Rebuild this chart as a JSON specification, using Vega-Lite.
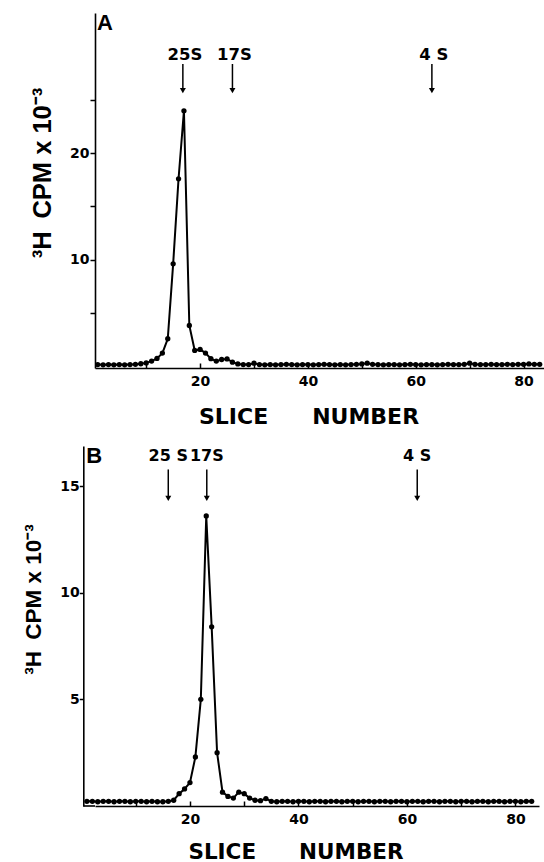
{
  "$schema": "https://vega.github.io/schema/vega-lite/v6.json",
  "padding": {"left": 21, "top": 12, "right": 0, "bottom": 0},
  "background": "white",
  "config": {
    "view": {"stroke": null},
    "axis": {"domainColor": "black", "domainWidth": 1.6, "tickColor": "black", "tickWidth": 1.5, "labelColor": "black", "labelFont": "DejaVu Sans", "labelFontWeight": "bold", "labelFontSize": 14, "titleColor": "black", "grid": false, "labelFlush": false, "labelOverlap": false},
    "concat": {"spacing": 17}
  },
  "datasets": {
    "a": [
      {"slice":1,"cpm":0.12},{"slice":2,"cpm":0.1},{"slice":3,"cpm":0.12},{"slice":4,"cpm":0.1},{"slice":5,"cpm":0.12},{"slice":6,"cpm":0.1},{"slice":7,"cpm":0.12},{"slice":8,"cpm":0.15},{"slice":9,"cpm":0.2},{"slice":10,"cpm":0.28},
      {"slice":11,"cpm":0.45},{"slice":12,"cpm":0.7},{"slice":13,"cpm":1.2},{"slice":14,"cpm":2.55},{"slice":15,"cpm":9.6},{"slice":16,"cpm":17.6},{"slice":17,"cpm":24.0},{"slice":18,"cpm":3.8},{"slice":19,"cpm":1.45},{"slice":20,"cpm":1.55},
      {"slice":21,"cpm":1.2},{"slice":22,"cpm":0.68},{"slice":23,"cpm":0.45},{"slice":24,"cpm":0.6},{"slice":25,"cpm":0.65},{"slice":26,"cpm":0.35},{"slice":27,"cpm":0.18},{"slice":28,"cpm":0.12},{"slice":29,"cpm":0.12},{"slice":30,"cpm":0.25},
      {"slice":31,"cpm":0.12},{"slice":32,"cpm":0.1},{"slice":33,"cpm":0.12},{"slice":34,"cpm":0.1},{"slice":35,"cpm":0.12},{"slice":36,"cpm":0.15},{"slice":37,"cpm":0.12},{"slice":38,"cpm":0.1},{"slice":39,"cpm":0.12},{"slice":40,"cpm":0.12},
      {"slice":41,"cpm":0.1},{"slice":42,"cpm":0.12},{"slice":43,"cpm":0.15},{"slice":44,"cpm":0.12},{"slice":45,"cpm":0.1},{"slice":46,"cpm":0.12},{"slice":47,"cpm":0.1},{"slice":48,"cpm":0.12},{"slice":49,"cpm":0.15},{"slice":50,"cpm":0.18},
      {"slice":51,"cpm":0.25},{"slice":52,"cpm":0.15},{"slice":53,"cpm":0.12},{"slice":54,"cpm":0.1},{"slice":55,"cpm":0.12},{"slice":56,"cpm":0.12},{"slice":57,"cpm":0.1},{"slice":58,"cpm":0.12},{"slice":59,"cpm":0.15},{"slice":60,"cpm":0.12},
      {"slice":61,"cpm":0.1},{"slice":62,"cpm":0.12},{"slice":63,"cpm":0.12},{"slice":64,"cpm":0.1},{"slice":65,"cpm":0.12},{"slice":66,"cpm":0.15},{"slice":67,"cpm":0.12},{"slice":68,"cpm":0.12},{"slice":69,"cpm":0.15},{"slice":70,"cpm":0.25},
      {"slice":71,"cpm":0.15},{"slice":72,"cpm":0.12},{"slice":73,"cpm":0.12},{"slice":74,"cpm":0.15},{"slice":75,"cpm":0.12},{"slice":76,"cpm":0.12},{"slice":77,"cpm":0.15},{"slice":78,"cpm":0.12},{"slice":79,"cpm":0.15},{"slice":80,"cpm":0.15},
      {"slice":81,"cpm":0.18},{"slice":82,"cpm":0.15},{"slice":83,"cpm":0.15}
    ],
    "aMarks": [{"label":"25S","slice":16.8},{"label":"17S","slice":26},{"label":"4 S","slice":63}],
    "b": [
      {"slice":1,"cpm":0.22},{"slice":2,"cpm":0.22},{"slice":3,"cpm":0.2},{"slice":4,"cpm":0.22},{"slice":5,"cpm":0.22},{"slice":6,"cpm":0.2},{"slice":7,"cpm":0.22},{"slice":8,"cpm":0.22},{"slice":9,"cpm":0.2},{"slice":10,"cpm":0.22},
      {"slice":11,"cpm":0.22},{"slice":12,"cpm":0.2},{"slice":13,"cpm":0.22},{"slice":14,"cpm":0.2},{"slice":15,"cpm":0.2},{"slice":16,"cpm":0.22},{"slice":17,"cpm":0.27},{"slice":18,"cpm":0.58},{"slice":19,"cpm":0.8},{"slice":20,"cpm":1.1},
      {"slice":21,"cpm":2.3},{"slice":22,"cpm":5.0},{"slice":23,"cpm":13.6},{"slice":24,"cpm":8.4},{"slice":25,"cpm":2.5},{"slice":26,"cpm":0.65},{"slice":27,"cpm":0.45},{"slice":28,"cpm":0.37},{"slice":29,"cpm":0.65},{"slice":30,"cpm":0.58},
      {"slice":31,"cpm":0.37},{"slice":32,"cpm":0.27},{"slice":33,"cpm":0.25},{"slice":34,"cpm":0.35},{"slice":35,"cpm":0.22},{"slice":36,"cpm":0.2},{"slice":37,"cpm":0.22},{"slice":38,"cpm":0.22},{"slice":39,"cpm":0.2},{"slice":40,"cpm":0.22},
      {"slice":41,"cpm":0.22},{"slice":42,"cpm":0.2},{"slice":43,"cpm":0.22},{"slice":44,"cpm":0.22},{"slice":45,"cpm":0.2},{"slice":46,"cpm":0.22},{"slice":47,"cpm":0.22},{"slice":48,"cpm":0.2},{"slice":49,"cpm":0.22},{"slice":50,"cpm":0.22},
      {"slice":51,"cpm":0.2},{"slice":52,"cpm":0.22},{"slice":53,"cpm":0.22},{"slice":54,"cpm":0.2},{"slice":55,"cpm":0.22},{"slice":56,"cpm":0.22},{"slice":57,"cpm":0.2},{"slice":58,"cpm":0.22},{"slice":59,"cpm":0.22},{"slice":60,"cpm":0.2},
      {"slice":61,"cpm":0.22},{"slice":62,"cpm":0.22},{"slice":63,"cpm":0.2},{"slice":64,"cpm":0.22},{"slice":65,"cpm":0.22},{"slice":66,"cpm":0.2},{"slice":67,"cpm":0.22},{"slice":68,"cpm":0.22},{"slice":69,"cpm":0.2},{"slice":70,"cpm":0.22},
      {"slice":71,"cpm":0.22},{"slice":72,"cpm":0.2},{"slice":73,"cpm":0.22},{"slice":74,"cpm":0.22},{"slice":75,"cpm":0.2},{"slice":76,"cpm":0.22},{"slice":77,"cpm":0.22},{"slice":78,"cpm":0.2},{"slice":79,"cpm":0.22},{"slice":80,"cpm":0.22},
      {"slice":81,"cpm":0.2},{"slice":82,"cpm":0.22},{"slice":83,"cpm":0.22}
    ],
    "bMarks": [{"label":"25 S","slice":16.0},{"label":"17S","slice":23.1},{"label":"4 S","slice":61.9}]
  },
  "vconcat": [
    {
      "width": 449,
      "height": 355,
      "layer": [
        {
          "data": {"name": "a"},
          "mark": {"type": "line", "color": "black", "strokeWidth": 2},
          "encoding": {
            "x": {"field": "slice", "type": "quantitative", "scale": {"domain": [0.5, 83.8], "nice": false, "zero": false},
              "axis": {"values": [10,20,30,40,50,60,70,80], "labelExpr": "datum.value % 20 == 0 ? datum.label : ''", "tickSize": -5, "labelPadding": 11.5,
                "title": "SLICE\u2003\u2003NUMBER", "titleFont": "DejaVu Sans", "titleFontWeight": "bold", "titleFontSize": 22, "titleX": 213.5, "titleY": 55.6, "titleBaseline": "alphabetic", "titleAlign": "center"}},
            "y": {"field": "cpm", "type": "quantitative", "scale": {"domain": [-0.2, 33.2], "nice": false, "zero": false},
              "axis": {"values": [5,10,15,20,25], "labelExpr": "datum.value % 10 == 0 ? datum.label : ''", "tickSize": 5, "labelPadding": 1, "minExtent": 74,
                "title": "³H\u2002CPM x 10⁻³", "titleFont": "Liberation Sans", "titleFontWeight": "bold", "titleFontSize": 25.5, "titleX": -45, "titleY": 159.5, "titleAngle": -90, "titleBaseline": "alphabetic", "titleAlign": "center"}}
          }
        },
        {
          "data": {"name": "a"},
          "mark": {"type": "point", "filled": true, "color": "black", "size": 28, "opacity": 1},
          "encoding": {"x": {"field": "slice", "type": "quantitative"}, "y": {"field": "cpm", "type": "quantitative"}}
        },
        {
          "data": {"name": "aMarks"},
          "mark": {"type": "rule", "color": "black", "strokeWidth": 1.5},
          "encoding": {"x": {"field": "slice", "type": "quantitative"}, "y": {"datum": 28.4}, "y2": {"datum": 26.0}}
        },
        {
          "data": {"name": "aMarks"},
          "mark": {"type": "point", "shape": "triangle-down", "filled": true, "color": "black", "size": 36, "opacity": 1},
          "encoding": {"x": {"field": "slice", "type": "quantitative"}, "y": {"datum": 25.9}}
        },
        {
          "data": {"name": "aMarks"},
          "mark": {"type": "text", "font": "DejaVu Sans", "fontWeight": "bold", "fontSize": 16.5, "baseline": "alphabetic", "align": "center", "dx": 2, "color": "black"},
          "encoding": {"x": {"field": "slice", "type": "quantitative"}, "y": {"datum": 28.78}, "text": {"field": "label"}}
        },
        {
          "data": {"values": [{"panel": "A"}]},
          "mark": {"type": "text", "font": "Liberation Sans", "fontWeight": "bold", "fontSize": 22, "baseline": "top", "align": "left", "color": "black"},
          "encoding": {"x": {"datum": 0.85}, "y": {"datum": 33.2}, "text": {"field": "panel"}}
        }
      ]
    },
    {
      "width": 444,
      "height": 360,
      "layer": [
        {
          "data": {"name": "b"},
          "mark": {"type": "line", "color": "black", "strokeWidth": 2},
          "encoding": {
            "x": {"field": "slice", "type": "quantitative", "scale": {"domain": [2.49, 84.35], "nice": false, "zero": false},
              "axis": {"values": [10,20,30,40,50,60,70,80], "labelExpr": "datum.value % 20 == 0 ? datum.label : ''", "tickSize": -5, "labelPadding": 11,
                "title": "SLICE\u2003\u2003NUMBER", "titleFont": "DejaVu Sans", "titleFontWeight": "bold", "titleFontSize": 21.5, "titleX": 200.5, "titleY": 52, "titleBaseline": "alphabetic", "titleAlign": "center"}},
            "y": {"field": "cpm", "type": "quantitative", "scale": {"domain": [0, 16.88], "nice": false, "zero": false},
              "axis": {"values": [5,10,15], "tickSize": 4, "labelPadding": 0, "offset": 11.7, "minExtent": 10,
                "title": "³H\u2002CPM x 10⁻³", "titleFont": "Liberation Sans", "titleFontWeight": "bold", "titleFontSize": 22.5, "titleX": -43.3, "titleY": 153, "titleAngle": -90, "titleBaseline": "alphabetic", "titleAlign": "center"}}
          }
        },
        {
          "data": {"values": [{"from": 0.33, "to": 2.49}]},
          "mark": {"type": "rule", "color": "black", "strokeWidth": 1.6},
          "encoding": {"x": {"field": "from", "type": "quantitative"}, "x2": {"field": "to"}, "y": {"datum": 0}}
        },
        {
          "data": {"name": "b"},
          "mark": {"type": "point", "filled": true, "color": "black", "size": 28, "opacity": 1},
          "encoding": {"x": {"field": "slice", "type": "quantitative"}, "y": {"field": "cpm", "type": "quantitative"}}
        },
        {
          "data": {"name": "bMarks"},
          "mark": {"type": "rule", "color": "black", "strokeWidth": 1.5},
          "encoding": {"x": {"field": "slice", "type": "quantitative"}, "y": {"datum": 15.78}, "y2": {"datum": 14.5}}
        },
        {
          "data": {"name": "bMarks"},
          "mark": {"type": "point", "shape": "triangle-down", "filled": true, "color": "black", "size": 36, "opacity": 1},
          "encoding": {"x": {"field": "slice", "type": "quantitative"}, "y": {"datum": 14.42}}
        },
        {
          "data": {"name": "bMarks"},
          "mark": {"type": "text", "font": "DejaVu Sans", "fontWeight": "bold", "fontSize": 16, "baseline": "alphabetic", "align": "center", "color": "black"},
          "encoding": {"x": {"field": "slice", "type": "quantitative"}, "y": {"datum": 16.2}, "text": {"field": "label"}}
        },
        {
          "data": {"values": [{"panel": "B"}]},
          "mark": {"type": "text", "font": "Liberation Sans", "fontWeight": "bold", "fontSize": 22, "baseline": "top", "align": "left", "dx": 3, "color": "black"},
          "encoding": {"x": {"datum": 0.33}, "y": {"datum": 16.88}, "text": {"field": "panel"}}
        }
      ]
    }
  ]
}
